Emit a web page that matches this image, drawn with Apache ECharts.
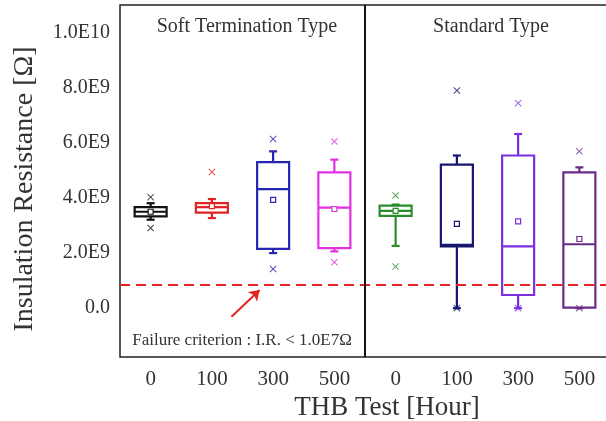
<!DOCTYPE html>
<html>
<head>
<meta charset="utf-8">
<script src="https://cdn.jsdelivr.net/npm/echarts@6/dist/echarts.min.js"></script>
<style>
html,body{margin:0;padding:0;background:#fff;overflow:hidden;}
#c{width:606px;height:421px;}
</style>
</head>
<body>
<div id="c"></div>
<script>
// ---- data (values in ohms) ----
const categories = ['0', '100', '300', '500', '0', '100', '300', '500'];
const groupNames = ['Soft Termination Type', 'Standard Type'];
const yTickValues = [0, 2e9, 4e9, 6e9, 8e9, 1e10];
const yTickLabels = ['0.0', '2.0E9', '4.0E9', '6.0E9', '8.0E9', '1.0E10'];
const whiskerLow  = [3.21e9, 3.27e9, 2.00e9, 2.06e9, 2.26e9, 0, 0, 0];
const q1          = [3.33e9, 3.47e9, 2.15e9, 2.18e9, 3.35e9, 2.24e9, 0.48e9, 0.02e9];
const median      = [3.50e9, 3.67e9, 4.32e9, 3.65e9, 3.53e9, 2.30e9, 2.24e9, 2.32e9];
const q3          = [3.67e9, 3.81e9, 5.30e9, 4.93e9, 3.72e9, 5.21e9, 5.54e9, 4.93e9];
const whiskerHigh = [3.81e9, 3.96e9, 5.69e9, 5.39e9, 3.76e9, 5.54e9, 6.32e9, 5.11e9];
const meanValues  = [3.50e9, 3.70e9, 3.93e9, 3.60e9, 3.53e9, 3.06e9, 3.15e9, 2.51e9];
const outlierHigh = [4.03e9, 4.94e9, 6.14e9, 6.05e9, 4.09e9, 7.90e9, 7.44e9, 5.69e9];
const outlierLow  = [2.91e9, null, 1.42e9, 1.67e9, 1.51e9, 0, 0, 0];
const failureLine = 0.85e9;
const failureText = 'Failure criterion : I.R. < 1.0E7Ω';

// ---- styles ----
const palette = ['#111111', '#e02424', '#2626b4', '#e030e0', '#2a8c2a', '#16166e', '#7a30e0', '#6a2a88'];
const serif = 'Liberation Serif, Times New Roman, serif';
const textColor = '#333';

const boxData = categories.map((c, i) => [i + 1, whiskerLow[i], q1[i], median[i], q3[i], whiskerHigh[i], meanValues[i]]);
const outlierData = [];
categories.forEach((c, i) => {
  if (outlierHigh[i] != null) outlierData.push([i + 1, outlierHigh[i]]);
  if (outlierLow[i] != null) outlierData.push([i + 1, outlierLow[i]]);
});

function renderBox(params, api) {
  const i = params.dataIndex;
  const x = api.value(0);
  const col = palette[i];
  const pLow = api.coord([x, api.value(1)]);
  const pQ1 = api.coord([x, api.value(2)]);
  const pMed = api.coord([x, api.value(3)]);
  const pQ3 = api.coord([x, api.value(4)]);
  const pHigh = api.coord([x, api.value(5)]);
  const pMean = api.coord([x, api.value(6)]);
  const cx = pMed[0];
  const half = 16, cap = 4, lw = 2.2;
  const ls = {stroke: col, lineWidth: lw, fill: null};
  return {
    type: 'group',
    children: [
      {type: 'line', shape: {x1: cx, y1: pQ3[1], x2: cx, y2: pHigh[1]}, style: ls},
      {type: 'line', shape: {x1: cx - cap, y1: pHigh[1], x2: cx + cap, y2: pHigh[1]}, style: ls},
      {type: 'line', shape: {x1: cx, y1: pQ1[1], x2: cx, y2: pLow[1]}, style: ls},
      {type: 'line', shape: {x1: cx - cap, y1: pLow[1], x2: cx + cap, y2: pLow[1]}, style: ls},
      {type: 'rect', shape: {x: cx - half, y: pQ3[1], width: half * 2, height: pQ1[1] - pQ3[1]},
        style: {stroke: col, lineWidth: lw, fill: '#fff'}},
      {type: 'line', shape: {x1: cx - half, y1: pMed[1], x2: cx + half, y2: pMed[1]}, style: ls},
      {type: 'rect', shape: {x: cx - 2.5, y: pMean[1] - 2.5, width: 5, height: 5},
        style: {stroke: col, lineWidth: 1.2, fill: '#fff'}}
    ]
  };
}

const chart = echarts.init(document.getElementById('c'), null, {renderer: 'canvas'});
chart.setOption({
  animation: false,
  backgroundColor: '#fff',
  grid: {left: 120, width: 490, top: 5, bottom: 64, outerBoundsMode: 'none', containLabel: false,
    show: true, borderColor: '#222', borderWidth: 1.5, backgroundColor: 'transparent'},
  xAxis: {
    type: 'value', min: 0.5, max: 8.5,
    axisLine: {show: false}, axisTick: {show: false}, splitLine: {show: false},
    axisLabel: {
      customValues: categories.map((c, i) => i + 1),
      formatter: v => categories[Math.round(v) - 1] || '',
      fontFamily: serif, fontSize: 21, color: textColor, margin: 12
    },
    name: 'THB Test [Hour]', nameLocation: 'middle', nameGap: 36,
    nameTextStyle: {fontFamily: serif, fontSize: 27, color: textColor, padding: [0, 0, 0, 44]}
  },
  yAxis: {
    type: 'value', min: -1.77e9, max: 11e9,
    axisLine: {show: false}, axisTick: {show: false}, splitLine: {show: false},
    axisLabel: {
      customValues: yTickValues,
      formatter: v => {
        const k = yTickValues.findIndex(t => Math.abs(t - v) < 1);
        return k >= 0 ? yTickLabels[k] : '';
      },
      fontFamily: serif, fontSize: 20, color: textColor, margin: 10
    },
    name: 'Insulation Resistance [Ω]', nameLocation: 'middle', nameGap: 81,
    nameTextStyle: {fontFamily: serif, fontSize: 28, color: textColor, padding: [0, 16, 0, 0]}
  },
  graphic: [
    {type: 'text', x: 247, y: 27, style: {text: groupNames[0], font: '20px ' + serif, fill: textColor, align: 'center', verticalAlign: 'middle'}},
    {type: 'text', x: 491, y: 27, style: {text: groupNames[1], font: '20px ' + serif, fill: textColor, align: 'center', verticalAlign: 'middle'}},
    {type: 'text', x: 242, y: 341, style: {text: failureText, font: '17px ' + serif, fill: textColor, align: 'center', verticalAlign: 'middle'}}
  ],
  series: [
    {
      type: 'custom',
      renderItem: renderBox,
      data: boxData,
      encode: {x: 0, y: [1, 2, 3, 4, 5]},
      clip: false,
      z: 3,
      markLine: {
        silent: true,
        symbol: ['none', 'none'],
        label: {show: false},
        data: [
          {yAxis: failureLine, lineStyle: {color: '#e42222', type: [10, 6], width: 2}},
          {xAxis: 4.5, lineStyle: {color: '#111', type: 'solid', width: 2}},
          [
            {coord: [2.32, -0.31e9], symbol: 'none', lineStyle: {color: '#e42222', type: 'solid', width: 2}},
            {coord: [2.78, 0.66e9], symbol: 'arrow', symbolSize: 10}
          ]
        ]
      }
    },
    {
      type: 'scatter',
      data: outlierData,
      symbol: 'path://M0,1 L1,0 L5,4 L9,0 L10,1 L6,5 L10,9 L9,10 L5,6 L1,10 L0,9 L4,5 Z',
      symbolSize: 7,
      z: 4,
      itemStyle: {color: p => palette[Math.round(p.data[0]) - 1]}
    }
  ]
});
</script>
</body>
</html>
